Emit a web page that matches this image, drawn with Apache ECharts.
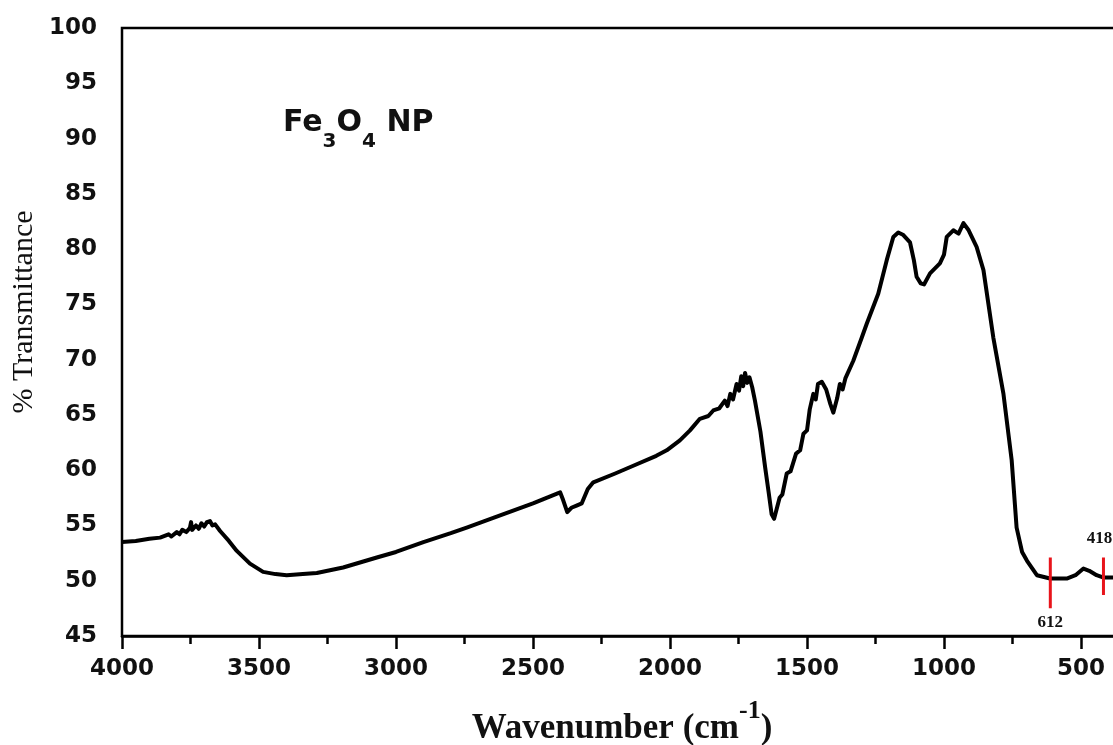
<!DOCTYPE html>
<html>
<head>
    <meta charset="UTF-8">
    <title>FTIR Fe3O4 NP</title>
    <script src="https://cdn.jsdelivr.net/npm/echarts@6/dist/echarts.min.js"></script>
    <style>
        html, body {margin: 0; padding: 0; background: #fff;}
        #chart {width: 1113px; height: 745px;}
    </style>
</head>
<body>
<div id="chart"></div>
<script type="text/javascript">
    // wavenumber (cm-1) and % transmittance
    var wavenumber = [
        4000, 3950, 3900, 3861, 3830, 3820, 3800, 3790, 3780, 3765, 3752, 3748, 3744, 3730, 3720, 3710, 3700, 3690, 3679, 3670, 3660, 3642,
        3610, 3581, 3533, 3485, 3440, 3399, 3340, 3289, 3193, 3070, 3000, 2900, 2800, 2742, 2600, 2500, 2401,
        2390, 2375, 2360, 2341, 2322, 2300, 2280, 2200, 2134, 2050, 2012, 1964, 1927, 1891, 1860, 1842, 1820,
        1800, 1790, 1780, 1770, 1757, 1748, 1740, 1733, 1726, 1718, 1710, 1700, 1690, 1670, 1653, 1640, 1629, 1620,
        1600, 1590, 1574, 1560, 1540, 1525, 1513, 1500, 1490, 1477, 1468, 1460, 1446, 1430, 1415, 1404, 1390, 1380,
        1370, 1360, 1331, 1300, 1282, 1240, 1209, 1185, 1167, 1150, 1124, 1110, 1100, 1085, 1073, 1051, 1015, 1000,
        990, 966, 947, 929, 910, 881, 856, 820, 783, 753, 735, 715, 697, 661, 613, 552, 520, 491, 470, 443, 420, 383, 350
    ];
    var transmittance = [
        53.5, 53.6, 53.8, 53.9, 54.2, 54.0, 54.4, 54.2, 54.6, 54.4, 54.8, 55.3, 54.6, 55.0, 54.7, 55.2, 54.9, 55.3, 55.4, 55.0, 55.1, 54.5,
        53.6, 52.7, 51.55, 50.8, 50.6, 50.5, 50.6, 50.7, 51.2, 52.1, 52.6, 53.5, 54.3, 54.8, 56.1, 57.0, 58.0,
        57.3, 56.2, 56.6, 56.8, 57.0, 58.3, 58.9, 59.7, 60.4, 61.3, 61.8, 62.7, 63.6, 64.65, 64.9, 65.4, 65.6,
        66.3, 65.8, 66.9, 66.4, 67.8, 67.2, 68.5, 67.6, 68.8, 67.9, 68.4, 67.5, 66.3, 63.5, 60.3, 58.0, 56.0, 55.6,
        57.5, 57.8, 59.7, 59.9, 61.5, 61.8, 63.3, 63.6, 65.5, 66.9, 66.4, 67.8, 68.0, 67.3, 66.0, 65.2, 66.5, 67.8,
        67.3, 68.3, 69.9, 72.0, 73.25, 75.96, 79.0, 81.1, 81.5, 81.3, 80.6, 79.0, 77.5, 76.9, 76.8, 77.8, 78.7, 79.5,
        81.1, 81.7, 81.4, 82.35, 81.7, 80.2, 78.1, 72.0, 66.9, 60.9, 54.8, 52.6, 51.8, 50.5, 50.2, 50.2, 50.5, 51.1, 50.9, 50.5, 50.3, 50.3, 50.3
    ];

    // red band markers
    var peakLabels = [612, 418];
    var peakTop = [52.1, 52.1];
    var peakBottom = [47.5, 48.7];

    var xTicks = [0, 500, 1000, 1500, 2000, 2500, 3000, 3500, 4000];
    var yTicks = [45, 50, 55, 60, 65, 70, 75, 80, 85, 90, 95, 100];

    var spectrum = [];
    for (var i = 0; i < wavenumber.length; i++) {
        spectrum.push([wavenumber[i], transmittance[i]]);
    }

    var series = [{
        name: 'Fe3O4 NP',
        type: 'line',
        data: spectrum,
        showSymbol: false,
        symbol: 'none',
        smooth: false,
        lineStyle: {color: '#000', width: 4, join: 'round'},
        z: 3
    }];

    // one short red segment per band, label 612 below, 418 above
    for (var k = 0; k < peakLabels.length; k++) {
        var below = k === 0;
        series.push({
            type: 'line',
            data: [
                {value: [peakLabels[k], peakTop[k]], label: {show: !below}},
                {value: [peakLabels[k], peakBottom[k]], label: {show: below}}
            ],
            showSymbol: true,
            showAllSymbol: true,
            symbol: 'circle',
            symbolSize: 0.1,
            itemStyle: {color: '#e8141b'},
            lineStyle: {color: '#e8141b', width: 3},
            label: {
                position: below ? 'bottom' : 'top',
                distance: below ? 6 : 10,
                offset: below ? [0, 0] : [-4, 0],
                formatter: String(peakLabels[k]),
                fontFamily: 'Liberation Serif',
                fontWeight: 'bold',
                fontSize: 17,
                color: '#111'
            },
            z: 4
        });
    }

    var option = {
        backgroundColor: '#fff',
        animation: false,
        grid: {
            left: 122,
            top: 28,
            width: 1096,
            bottom: 109,
            outerBoundsMode: 'none',
            containLabel: false,
            show: true,
            borderColor: '#000',
            borderWidth: 2.5,
            backgroundColor: 'transparent'
        },
        xAxis: {
            type: 'value',
            inverse: true,
            min: xTicks[0],
            max: xTicks[xTicks.length - 1],
            interval: 500,
            axisLine: {lineStyle: {color: '#000', width: 2.5}},
            axisTick: {inside: false, length: 13, lineStyle: {color: '#000', width: 2.5}},
            minorTick: {show: true, splitNumber: 2, length: 8, lineStyle: {color: '#000', width: 2.5}},
            splitLine: {show: false},
            axisLabel: {
                margin: 22,
                fontFamily: 'DejaVu Sans',
                fontWeight: 'bold',
                fontSize: 23,
                color: '#111',
                formatter: function (v) { return String(v); }
            }
        },
        yAxis: {
            type: 'value',
            min: yTicks[0],
            max: yTicks[yTicks.length - 1],
            interval: 5,
            axisLine: {lineStyle: {color: '#000', width: 2.5}},
            axisTick: {inside: false, length: 16, lineStyle: {color: '#000', width: 2.5}},
            minorTick: {show: true, splitNumber: 2, length: 9, lineStyle: {color: '#000', width: 2.5}},
            splitLine: {show: false},
            axisLabel: {
                margin: 25,
                fontFamily: 'DejaVu Sans',
                fontWeight: 'bold',
                fontSize: 23,
                color: '#111',
                formatter: function (v) { return String(v); }
            }
        },
        graphic: [
            {
                type: 'text',
                left: 283,
                top: 108,
                style: {
                    text: '{m|Fe}{s|3}{m|O}{s|4}{m| NP}',
                    rich: {
                        m: {fontFamily: 'DejaVu Sans', fontWeight: 'bold', fontSize: 30, lineHeight: 34, verticalAlign: 'top', fill: '#111'},
                        s: {fontFamily: 'DejaVu Sans', fontWeight: 'bold', fontSize: 20, lineHeight: 44, verticalAlign: 'bottom', fill: '#111'}
                    }
                }
            },
            {
                type: 'text',
                x: 24,
                y: 312,
                rotation: Math.PI / 2,
                style: {
                    text: '% Transmittance',
                    fontFamily: 'Liberation Serif',
                    fontSize: 30,
                    fill: '#111',
                    align: 'center',
                    verticalAlign: 'middle'
                }
            },
            {
                type: 'text',
                x: 622,
                y: 722,
                style: {
                    text: '{m|Wavenumber (cm}{p|-1}{m|)}',
                    align: 'center',
                    verticalAlign: 'middle',
                    rich: {
                        m: {fontFamily: 'Liberation Serif', fontWeight: 'bold', fontSize: 35, lineHeight: 48, verticalAlign: 'bottom', fill: '#111'},
                        p: {fontFamily: 'Liberation Serif', fontWeight: 'bold', fontSize: 26, lineHeight: 48, verticalAlign: 'top', fill: '#111'}
                    }
                }
            }
        ],
        series: series
    };

    var myChart = echarts.init(document.getElementById('chart'));
    myChart.setOption(option);
</script>
</body>
</html>
